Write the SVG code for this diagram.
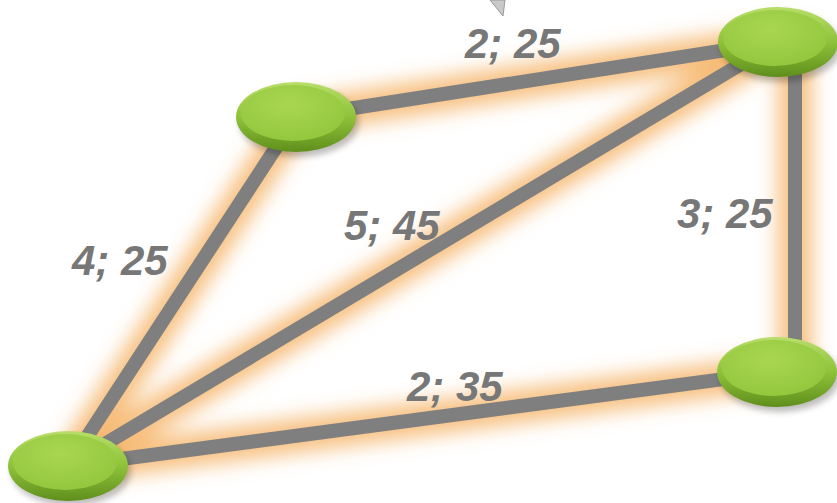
<svg xmlns="http://www.w3.org/2000/svg" width="837" height="503" viewBox="0 0 837 503">
<defs>
<filter id="glow" x="-20%" y="-20%" width="140%" height="140%"><feGaussianBlur stdDeviation="10"/></filter>
<filter id="shadow" x="-30%" y="-30%" width="160%" height="160%"><feGaussianBlur stdDeviation="3"/></filter>
<linearGradient id="rim" x1="0" y1="0" x2="0" y2="1">
<stop offset="0" stop-color="#b8de6a"/><stop offset="0.5" stop-color="#8fc23a"/><stop offset="1" stop-color="#5f8f1c"/>
</linearGradient>
<radialGradient id="face" cx="0.45" cy="0.35" r="0.7">
<stop offset="0" stop-color="#a9d652"/><stop offset="1" stop-color="#92c63c"/>
</radialGradient>
<g id="node">
<ellipse cx="3" cy="5" rx="60" ry="35" fill="#000" opacity="0.25" filter="url(#shadow)"/>
<ellipse cx="0" cy="0" rx="60" ry="35" fill="url(#rim)"/>
<ellipse cx="-3" cy="-4" rx="52" ry="28" fill="url(#face)"/>
</g>
</defs>
<style>
.glow{stroke:#f6b56a;stroke-width:34;fill:none;opacity:0.85;stroke-linecap:round}
.edge{stroke:#7f7f7f;stroke-width:14;fill:none}
.lbl{font-family:"Liberation Sans",Arial,sans-serif;font-weight:bold;font-style:italic;font-size:42px;fill:#777777}
</style>
<polygon points="490,0 505,0 503,16" fill="#c9c9c9" stroke="#9a9a9a" stroke-width="1"/>
<g id="connectors">
<g filter="url(#glow)">
<line class="glow" x1="68" y1="466" x2="296" y2="117"/>
<line class="glow" x1="68" y1="466" x2="778" y2="42"/>
<line class="glow" x1="68" y1="466" x2="777" y2="372"/>
<line class="glow" x1="296" y1="117" x2="778" y2="42"/>
<line class="glow" x1="795" y1="42" x2="795" y2="372"/>
</g>
<line class="edge" x1="68" y1="466" x2="296" y2="117"/>
<line class="edge" x1="68" y1="466" x2="778" y2="42"/>
<line class="edge" x1="68" y1="466" x2="777" y2="372"/>
<line class="edge" x1="296" y1="117" x2="778" y2="42"/>
<line class="edge" x1="795" y1="42" x2="795" y2="372"/>
</g>
<g id="labels">
<text class="lbl" x="465" y="58">2; 25</text>
<text class="lbl" x="72" y="275">4; 25</text>
<text class="lbl" x="344" y="240">5; 45</text>
<text class="lbl" x="677" y="228">3; 25</text>
<text class="lbl" x="407" y="401">2; 35</text>
</g>
<g id="n_top"><use href="#node" x="296" y="117"/></g>
<g id="n_bl"><use href="#node" x="68" y="466"/></g>
<g id="n_tr"><use href="#node" x="778" y="42"/></g>
<g id="n_br"><use href="#node" x="777" y="372"/></g>
</svg>
